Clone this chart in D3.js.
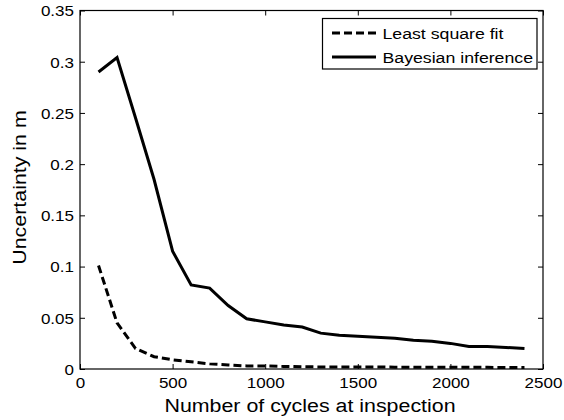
<!DOCTYPE html>
<html><head><meta charset="utf-8">
<script src="https://cdn.jsdelivr.net/npm/d3@7"></script>
<style>body{margin:0;background:#fff}svg{display:block}text{font-family:Arial,"Liberation Sans",sans-serif;fill:#000}</style>
</head><body>
<svg id="c" width="564" height="420"></svg>
<script>
const cycles = [100,200,300,400,500,600,700,800,900,1000,1100,1200,1300,1400,1500,1600,1700,1800,1900,2000,2100,2200,2300,2400];
const leastSquare = [0.101,0.045,0.020,0.012,0.009,0.007,0.005,0.004,0.003,0.003,0.0025,0.0022,0.002,0.002,0.002,0.002,0.0018,0.0018,0.0017,0.0017,0.0016,0.0016,0.0015,0.0015];
const bayesian = [0.290,0.304,0.245,0.185,0.115,0.082,0.079,0.062,0.049,0.046,0.043,0.041,0.035,0.033,0.032,0.031,0.030,0.028,0.027,0.025,0.022,0.022,0.021,0.020];
const xTicks = [0,500,1000,1500,2000,2500];
const yTicks = [0,0.05,0.1,0.15,0.2,0.25,0.3,0.35];
const yTickLabels = ["0","0.05","0.1","0.15","0.2","0.25","0.3","0.35"];
const seriesNames = ["Least square fit","Bayesian inference"];

const svg = d3.select("#c");
const L=80,R=543,T=10.5,B=369;
const sx = 1.15;
const x = d3.scaleLinear().domain([0,2500]).range([L,R]);
const y = d3.scaleLinear().domain([0,0.35]).range([B,T]);

function styleAxis(g){ g.selectAll("path").remove(); g.selectAll("line").attr("stroke","#000").attr("stroke-width",1); }

// bottom axis with labels
const gb = svg.append("g").attr("transform",`translate(0,${B})`)
  .call(d3.axisBottom(x).tickValues(xTicks).tickSize(-5).tickPadding(0).tickFormat(d3.format("d")));
styleAxis(gb);
gb.selectAll("text").attr("y",19).attr("dy",null).style("font-size","14.8px").attr("transform",`scale(${sx},1)`);
// top axis ticks
const gt = svg.append("g").attr("transform",`translate(0,${T})`)
  .call(d3.axisTop(x).tickValues(xTicks).tickSize(-5).tickFormat(""));
styleAxis(gt);
// left axis
const gl = svg.append("g").attr("transform",`translate(${L},0)`)
  .call(d3.axisLeft(y).tickValues(yTicks).tickSize(-5).tickFormat((d,i)=>yTickLabels[i]));
styleAxis(gl);
gl.selectAll("text").attr("x",-6/sx).attr("dy","0.36em").style("font-size","14.8px").attr("transform",`scale(${sx},1)`);
// right axis
const gr = svg.append("g").attr("transform",`translate(${R},0)`)
  .call(d3.axisRight(y).tickValues(yTicks).tickSize(-5).tickFormat(""));
styleAxis(gr);

// box
svg.append("rect").attr("x",L).attr("y",T).attr("width",R-L).attr("height",B-T)
  .attr("fill","none").attr("stroke","#000").attr("stroke-width",1.2);

const line = d3.line().x((d,i)=>x(cycles[i])).y(d=>y(d));
svg.append("path").datum(leastSquare).attr("d",line).attr("fill","none")
  .attr("stroke","#000").attr("stroke-width",3).attr("stroke-dasharray","8,4");
svg.append("path").datum(bayesian).attr("d",line).attr("fill","none")
  .attr("stroke","#000").attr("stroke-width",3).attr("stroke-linejoin","miter");

// axis titles
svg.append("text").attr("transform",`translate(310,412) scale(${sx},1)`).attr("text-anchor","middle")
  .style("font-size","18.6px").text("Number of cycles at inspection");
svg.append("text").attr("transform",`translate(26,187.5) rotate(-90) scale(${sx},1)`).attr("text-anchor","middle")
  .style("font-size","18.6px").text("Uncertainty in m");

// legend
const lg = svg.append("g");
lg.append("rect").attr("x",322.5).attr("y",18.5).attr("width",214.5).attr("height",50.5)
  .attr("fill","#fff").attr("stroke","#000").attr("stroke-width",1.2);
const rows=[{dash:"8,4",yy:33},{dash:null,yy:57}];
rows.forEach((r,i)=>{
  lg.append("line").attr("x1",332).attr("x2",376).attr("y1",r.yy).attr("y2",r.yy)
    .attr("stroke","#000").attr("stroke-width",3).attr("stroke-dasharray",r.dash);
  lg.append("text").attr("transform",`translate(382.5,${r.yy+6}) scale(${sx},1)`)
    .style("font-size","15.4px").text(seriesNames[i]);
});
</script>
</body></html>
